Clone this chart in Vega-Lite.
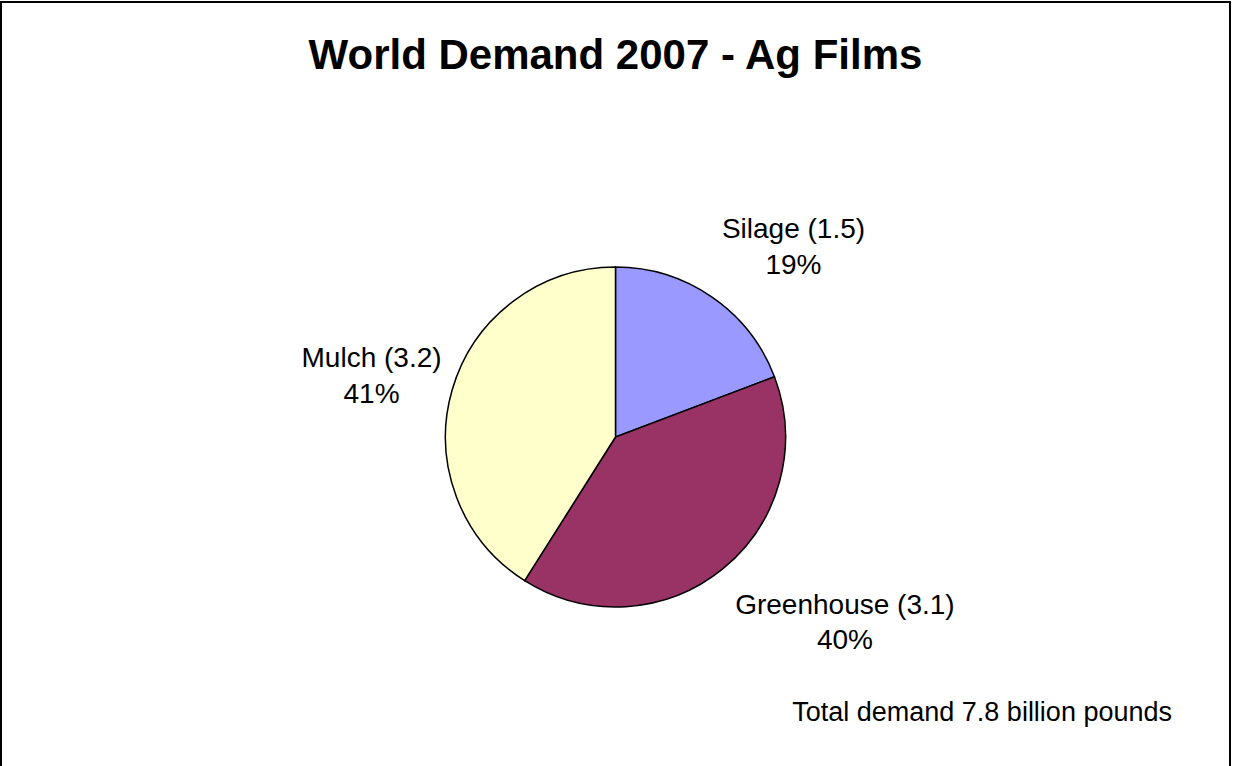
{
  "$schema": "https://vega.github.io/schema/vega-lite/v6.json",
  "autosize": {"type": "none"},
  "padding": {"left": 1, "top": 2, "right": 3, "bottom": -106},
  "width": 1229,
  "height": 870,
  "background": "white",
  "config": {
    "view": {"stroke": "black", "strokeWidth": 2},
    "font": "Liberation Sans"
  },
  "title": {
    "text": "World Demand 2007 - Ag Films",
    "font": "Liberation Sans",
    "fontSize": 42,
    "fontWeight": "bold",
    "color": "black",
    "anchor": "middle",
    "offset": -76
  },
  "data": {
    "values": [
      {"category": "Silage", "value": 1.5, "rank": 1, "label": "Silage (1.5)\n19%"},
      {"category": "Greenhouse", "value": 3.1, "rank": 2, "label": "Greenhouse (3.1)\n40%"},
      {"category": "Mulch", "value": 3.2, "rank": 3, "label": "Mulch (3.2)\n41%"}
    ]
  },
  "transform": [
    {"stack": "value", "groupby": [], "sort": [{"field": "rank", "order": "ascending"}], "as": ["v0", "v1"]},
    {"calculate": "(datum.v0 + datum.v1) / 2", "as": "vmid"}
  ],
  "layer": [
    {
      "mark": {"type": "arc", "outerRadius": 170, "stroke": "black", "strokeWidth": 1.5},
      "encoding": {
        "theta": {"field": "v0", "type": "quantitative", "scale": {"domain": [0, 7.8]}},
        "theta2": {"field": "v1"},
        "color": {
          "field": "category",
          "type": "nominal",
          "scale": {"domain": ["Silage", "Greenhouse", "Mulch"], "range": ["#9999FF", "#993366", "#FFFFCC"]},
          "legend": null
        }
      }
    },
    {
      "transform": [{"filter": "datum.category === 'Silage'"}],
      "mark": {"type": "text", "radius": 273, "thetaOffset": 0.106, "fontSize": 28, "lineHeight": 36, "lineBreak": "\n", "baseline": "middle", "align": "center", "color": "black"},
      "encoding": {
        "theta": {"field": "vmid", "type": "quantitative", "scale": {"domain": [0, 7.8]}},
        "text": {"field": "label", "type": "nominal"}
      }
    },
    {
      "transform": [{"filter": "datum.category === 'Greenhouse'"}],
      "mark": {"type": "text", "radius": 285, "thetaOffset": -0.251, "fontSize": 28, "lineHeight": 35, "lineBreak": "\n", "baseline": "middle", "align": "center", "color": "black"},
      "encoding": {
        "theta": {"field": "vmid", "type": "quantitative", "scale": {"domain": [0, 7.8]}},
        "text": {"field": "label", "type": "nominal"}
      }
    },
    {
      "transform": [{"filter": "datum.category === 'Mulch'"}],
      "mark": {"type": "text", "radius": 256, "thetaOffset": 0.026, "fontSize": 28, "lineHeight": 36, "lineBreak": "\n", "baseline": "middle", "align": "center", "color": "black"},
      "encoding": {
        "theta": {"field": "vmid", "type": "quantitative", "scale": {"domain": [0, 7.8]}},
        "text": {"field": "label", "type": "nominal"}
      }
    },
    {
      "data": {"values": [{"note": "Total demand 7.8 billion pounds"}]},
      "transform": [],
      "mark": {"type": "text", "align": "right", "baseline": "alphabetic", "fontSize": 27, "dx": -58, "dy": -151, "color": "black"},
      "encoding": {
        "x": {"value": "width"},
        "y": {"value": "height"},
        "text": {"field": "note", "type": "nominal"}
      }
    }
  ]
}
